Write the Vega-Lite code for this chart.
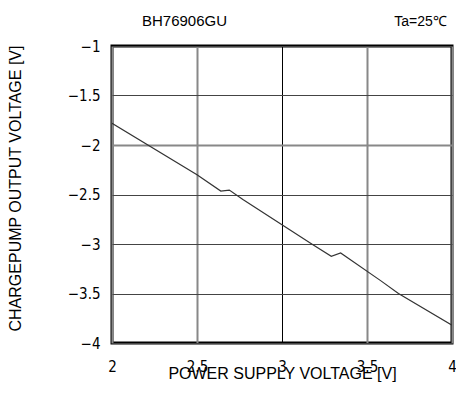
{
  "$schema": "https://vega.github.io/schema/vega-lite/v6.json",
  "autosize": "none",
  "width": 340,
  "height": 297,
  "padding": {"left": 112, "top": 46, "right": 4, "bottom": 51},
  "background": "white",
  "config": {
    "view": {"stroke": "black", "strokeWidth": 3},
    "axis": {
      "ticks": false,
      "domain": false,
      "labelFont": "DejaVu Sans Condensed, Liberation Sans",
      "labelFontSize": 15,
      "labelColor": "black",
      "labelFlush": false,
      "labelOverlap": false,
      "labelBound": false,
      "titleFont": "Liberation Sans",
      "titleFontSize": 16,
      "titleFontWeight": "normal",
      "titleColor": "black"
    }
  },
  "data": {
    "values": [
      {"v": 2.0, "out": -1.78},
      {"v": 2.5, "out": -2.30},
      {"v": 2.64, "out": -2.465},
      {"v": 2.69, "out": -2.455},
      {"v": 2.77, "out": -2.55},
      {"v": 3.175, "out": -3.0},
      {"v": 3.29, "out": -3.125},
      {"v": 3.345, "out": -3.09},
      {"v": 3.58, "out": -3.37},
      {"v": 3.685, "out": -3.5},
      {"v": 4.0, "out": -3.82}
    ]
  },
  "layer": [
    {
      "mark": {"type": "line", "stroke": "#333333", "strokeWidth": 1.2, "clip": true},
      "encoding": {
        "x": {
          "field": "v", "type": "quantitative",
          "scale": {"domain": [2, 4], "nice": false, "zero": false},
          "axis": {
            "orient": "bottom",
            "values": [2, 2.5, 3, 3.5, 4],
            "format": "~g",
            "title": "POWER SUPPLY VOLTAGE [V]",
            "labelPadding": 16,
            "titleX": 170,
            "titleY": 35,
            "titleBaseline": "alphabetic",
            "titleAlign": "center",
            "grid": true,
            "gridColor": {"condition": {"test": "datum.value === 3", "value": "#000000"}, "value": "#888888"},
            "gridWidth": {"condition": {"test": "datum.value === 3", "value": 1}, "value": 2}
          }
        },
        "y": {
          "field": "out", "type": "quantitative",
          "scale": {"domain": [-4, -1], "nice": false, "zero": false},
          "axis": {
            "orient": "left",
            "values": [-4, -3.5, -3, -2.5, -2, -1.5, -1],
            "format": "~g",
            "title": "CHARGEPUMP OUTPUT VOLTAGE [V]",
            "labelPadding": 12,
            "titleX": -97,
            "titleY": 142,
            "titleAngle": -90,
            "titleBaseline": "middle",
            "titleAlign": "center",
            "grid": true,
            "gridColor": {"condition": {"test": "datum.value === -2", "value": "#888888"}, "value": "#444444"},
            "gridWidth": {"condition": {"test": "datum.value === -2", "value": 2}, "value": 1}
          }
        }
      }
    },
    {
      "mark": {"type": "line", "strokeOpacity": 0},
      "encoding": {
        "x": {
          "field": "v", "type": "quantitative",
          "axis": {
            "orient": "top",
            "labels": false,
            "grid": false,
            "values": [],
            "title": "BH76906GU",
            "titleX": 72,
            "titleY": -21,
            "titleBaseline": "alphabetic",
            "titleAlign": "center",
            "titleFontSize": 15
          }
        },
        "y": {
          "field": "out", "type": "quantitative",
          "axis": {
            "orient": "right",
            "labels": false,
            "grid": false,
            "values": [],
            "title": "Ta=25℃",
            "titleAngle": 0,
            "titleX": -32,
            "titleY": -21,
            "titleBaseline": "alphabetic",
            "titleAlign": "center",
            "titleFontSize": 14
          }
        }
      }
    }
  ],
  "resolve": {"axis": {"x": "independent", "y": "independent"}}
}
